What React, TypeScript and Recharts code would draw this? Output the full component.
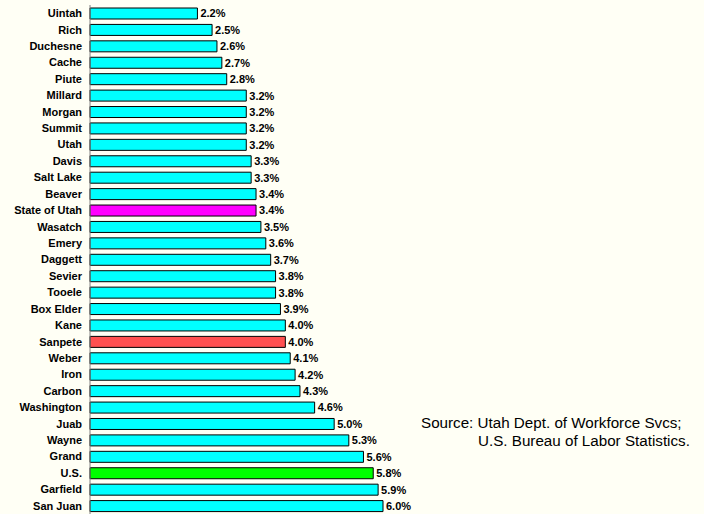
import { BarChart, Bar, XAxis, YAxis, Cell, LabelList } from 'recharts';

const counties = [
    'Uintah', 'Rich', 'Duchesne', 'Cache', 'Piute', 'Millard', 'Morgan', 'Summit', 'Utah', 'Davis',
    'Salt Lake', 'Beaver', 'State of Utah', 'Wasatch', 'Emery', 'Daggett', 'Sevier', 'Tooele', 'Box Elder', 'Kane',
    'Sanpete', 'Weber', 'Iron', 'Carbon', 'Washington', 'Juab', 'Wayne', 'Grand', 'U.S.', 'Garfield', 'San Juan',
];

const rates = [
    2.2, 2.5, 2.6, 2.7, 2.8, 3.2, 3.2, 3.2, 3.2, 3.3,
    3.3, 3.4, 3.4, 3.5, 3.6, 3.7, 3.8, 3.8, 3.9, 4.0,
    4.0, 4.1, 4.2, 4.3, 4.6, 5.0, 5.3, 5.6, 5.8, 5.9, 6.0,
];

const highlights: Record<string, string> = {
    'State of Utah': '#FF00FF',
    'Sanpete': '#FF5050',
    'U.S.': '#00FF00',
};

const sourceLines = ['Source: Utah Dept. of Workforce Svcs;', 'U.S. Bureau of Labor Statistics.'];

const data = counties.map((name, i) => ({ name, rate: rates[i] }));

const font = 'Arial, "Liberation Sans", sans-serif';

export default function App() {
    return (
        <div style={{ position: 'absolute', left: 0, top: 0, width: 704, height: 514, background: '#FFFFF5', fontFamily: font }}>
            <BarChart
                width={704}
                height={514}
                data={data}
                layout="vertical"
                margin={{ top: 5, right: 28, bottom: 0, left: 0 }}
            >
                <XAxis type="number" domain={[0, 12]} hide />
                <YAxis
                    type="category"
                    dataKey="name"
                    width={90}
                    interval={0}
                    tickLine={false}
                    axisLine={{ stroke: '#808080' }}
                    tick={{ fill: '#000', fontSize: 11, fontWeight: 'bold', fontFamily: font }}
                />
                <Bar dataKey="rate" barSize={11} stroke="#000" strokeWidth={1} isAnimationActive={false}>
                    {data.map((d, i) => (
                        <Cell key={`cell-${i}`} fill={highlights[d.name] || '#00FFFF'} />
                    ))}
                    <LabelList
                        dataKey="rate"
                        position="right"
                        offset={3}
                        formatter={(v: number) => v.toFixed(1) + '%'}
                        style={{ fill: '#000', fontSize: 11, fontWeight: 'bold', fontFamily: font }}
                    />
                </Bar>
            </BarChart>
            <div style={{ position: 'absolute', left: 421, top: 414, fontSize: 15.2, color: '#000', lineHeight: '18px', whiteSpace: 'nowrap' }}>
                {sourceLines[0]}
            </div>
            <div style={{ position: 'absolute', left: 478, top: 432, fontSize: 15.2, color: '#000', lineHeight: '18px', whiteSpace: 'nowrap' }}>
                {sourceLines[1]}
            </div>
        </div>
    );
}
